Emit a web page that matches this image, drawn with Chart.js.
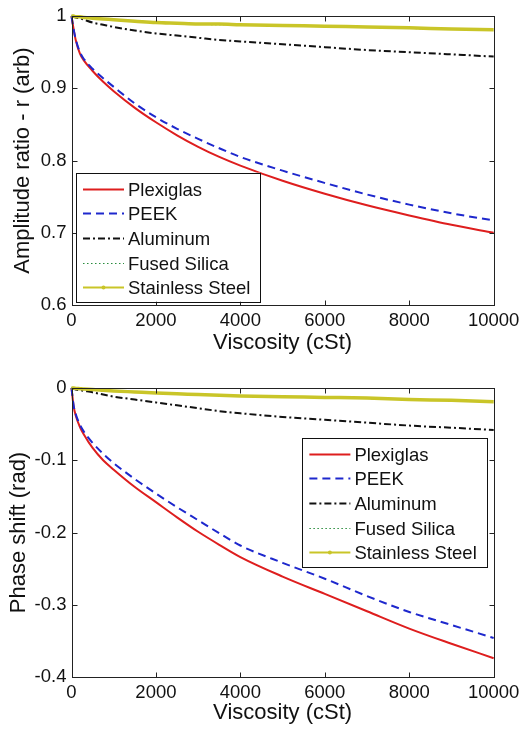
<!DOCTYPE html>
<html><head><meta charset="utf-8">
<script src="https://cdn.jsdelivr.net/npm/chart.js@4.4.1/dist/chart.umd.min.js"></script>
<style>
html,body{margin:0;padding:0;background:#fff;width:524px;height:729px;overflow:hidden}
.c{position:absolute;left:0;width:524px}
#w1{top:0;height:360px}
#w2{top:360px;height:369px}
</style></head><body>
<div class="c" id="w1"><canvas id="c1"></canvas></div>
<div class="c" id="w2"><canvas id="c2"></canvas></div>
<script>
// ---------- data ----------
const viscosity = [0,50,100,200,300,500,750,1000,1500,2000,2500,3000,3500,4000,5000,6000,7000,8000,9000,10000];
const seriesNames = ['Plexiglas','PEEK','Aluminum','Fused Silica','Stainless Steel'];

const ampPlexiglas = [1.0,0.982,0.967,0.948,0.938,0.924,0.909,0.896,0.873,0.853,0.835,0.819,0.805,0.793,0.772,0.754,0.738,0.724,0.711,0.700];
const ampPEEK      = [1.0,0.982,0.968,0.950,0.940,0.927,0.914,0.902,0.879,0.860,0.844,0.830,0.817,0.805,0.786,0.769,0.753,0.739,0.727,0.717];
const ampAluminum  = [1.0,0.999,0.998,0.997,0.995,0.991,0.988,0.985,0.980,0.976,0.973,0.970,0.967,0.965,0.961,0.957,0.953,0.950,0.947,0.944];
const ampFused     = [1.0,1.0,0.999,0.999,0.998,0.997,0.996,0.995,0.993,0.992,0.990,0.989,0.988,0.988,0.987,0.986,0.985,0.983,0.982,0.981];
const ampSteel     = [1.0,1.0,0.999,0.999,0.998,0.997,0.996,0.995,0.993,0.991,0.990,0.989,0.989,0.988,0.987,0.986,0.985,0.984,0.982,0.981];

const phasePlexiglas = [0,-0.025,-0.038,-0.054,-0.065,-0.083,-0.100,-0.113,-0.137,-0.158,-0.179,-0.199,-0.217,-0.234,-0.261,-0.285,-0.309,-0.333,-0.354,-0.374];
const phasePEEK      = [0,-0.024,-0.036,-0.051,-0.061,-0.076,-0.091,-0.104,-0.126,-0.146,-0.165,-0.183,-0.201,-0.218,-0.242,-0.264,-0.288,-0.310,-0.328,-0.346];
const phaseAluminum  = [0,-0.001,-0.002,-0.003,-0.004,-0.006,-0.009,-0.012,-0.016,-0.020,-0.024,-0.028,-0.032,-0.035,-0.040,-0.044,-0.048,-0.052,-0.055,-0.058];
const phaseFused     = [0,0,-0.0005,-0.001,-0.0015,-0.002,-0.003,-0.004,-0.005,-0.0065,-0.008,-0.009,-0.010,-0.011,-0.012,-0.013,-0.0145,-0.016,-0.017,-0.018];
const phaseSteel     = [0,0,-0.0005,-0.001,-0.0015,-0.002,-0.003,-0.004,-0.0055,-0.007,-0.008,-0.009,-0.010,-0.011,-0.012,-0.013,-0.014,-0.016,-0.017,-0.019];

const xTicks = [0,2000,4000,6000,8000,10000];
const ampTicks = [0.6,0.7,0.8,0.9,1];
const phaseTicks = [-0.4,-0.3,-0.2,-0.1,0];

// ---------- styles ----------
const FONT = '"Liberation Sans", Arial, Helvetica, sans-serif';
Chart.defaults.font.family = FONT;
Chart.defaults.color = '#111';

const styles = [
  {borderColor:'rgb(222,30,30)', borderWidth:2, borderDash:[]},
  {borderColor:'rgb(30,40,205)', borderWidth:2, borderDash:[8,5]},
  {borderColor:'#111', borderWidth:2, borderDash:[7,3,2,3]},
  {borderColor:'rgb(40,140,60)', borderWidth:1.2, borderDash:[1.5,2.5]},
  {borderColor:'rgb(201,197,40)', borderWidth:3.5, borderDash:[], legendMarker:true}
];

function makeDatasets(list){
  return list.map((vals,i)=>Object.assign({
    label: seriesNames[i],
    data: viscosity.map((x,k)=>({x:x, y:vals[k]})),
    pointRadius:0, fill:false,
    cubicInterpolationMode:'monotone',
    order: 5-i, clip: 3
  }, styles[i]));
}

const axesBox = {
  id:'axesBox',
  afterDatasetsDraw(chart){
    const {ctx, chartArea:a, scales:{x,y}} = chart;
    ctx.save();
    ctx.strokeStyle='#222'; ctx.lineWidth=1; ctx.setLineDash([]);
    const L=Math.round(a.left)+0.5, R=Math.round(a.right)+0.5, T=Math.round(a.top)+0.5, B=Math.round(a.bottom)+0.5;
    ctx.strokeRect(L,T,R-L,B-T);
    ctx.beginPath();
    x.ticks.forEach(t=>{const p=Math.round(x.getPixelForValue(t.value))+0.5; ctx.moveTo(p,B); ctx.lineTo(p,B-5); ctx.moveTo(p,T); ctx.lineTo(p,T+5);});
    y.ticks.forEach(t=>{const p=Math.round(y.getPixelForValue(t.value))+0.5; ctx.moveTo(L,p); ctx.lineTo(L+5,p); ctx.moveTo(R,p); ctx.lineTo(R-5,p);});
    ctx.stroke();
    ctx.restore();
  }
};

const boxLegend = {
  id:'boxLegend',
  afterDraw(chart, args, o){
    const {ctx, chartArea:a} = chart;
    const w=o.width, h=o.height;
    const x0 = o.anchor==='bl' ? a.left+o.dx : a.right-o.dx-w;
    const y0 = o.anchor==='bl' ? a.bottom-o.dy-h : a.top+o.dy;
    ctx.save();
    ctx.fillStyle='#fff'; ctx.fillRect(x0,y0,w,h);
    ctx.strokeStyle='#111'; ctx.lineWidth=1; ctx.setLineDash([]);
    ctx.strokeRect(Math.round(x0)+0.5, Math.round(y0)+0.5, Math.round(w), Math.round(h));
    ctx.font = '18.5px '+FONT;
    ctx.textBaseline='middle'; ctx.textAlign='left';
    chart.data.datasets.forEach((ds,i)=>{
      const y = Math.round(y0+16+i*24.6)+0.5;
      ctx.strokeStyle=ds.borderColor; ctx.lineWidth=Math.min(ds.borderWidth,2);
      ctx.setLineDash(ds.borderDash||[]);
      ctx.beginPath(); ctx.moveTo(x0+7,y); ctx.lineTo(x0+48,y); ctx.stroke();
      ctx.setLineDash([]);
      if(ds.legendMarker){ctx.fillStyle=ds.borderColor; ctx.beginPath(); ctx.arc(x0+27.5,y,2,0,Math.PI*2); ctx.fill();}
      ctx.fillStyle='#111';
      ctx.fillText(ds.label, x0+52, y+1);
    });
    ctx.restore();
  }
};

function makeChart(id, lists, yMin, yMax, yTicks, yTitle, pad, xAxisH, xTitlePad, yTitlePad, legendOpts){
  return new Chart(document.getElementById(id), {
    type:'line',
    data:{datasets: makeDatasets(lists)},
    plugins:[axesBox, boxLegend],
    options:{
      responsive:true, maintainAspectRatio:false, animation:false,
      layout:{padding:pad},
      plugins:{legend:{display:false}, tooltip:{enabled:false}, boxLegend:legendOpts},
      scales:{
        x:{type:'linear', min:0, max:10000,
           afterBuildTicks:s=>{s.ticks = xTicks.map(v=>({value:v}));},
           afterFit:s=>{s.height = xAxisH;},
           grid:{display:false, drawTicks:false, tickLength:0}, border:{display:false},
           ticks:{font:{size:18.5, lineHeight:1.2}, padding:4.6, color:'#111', maxRotation:0, autoSkip:false,
                  callback:v=>String(Math.round(v))},
           title:{display:true, text:'Viscosity (cSt)', font:{size:22, lineHeight:1.2}, color:'#111', padding:{top:0,bottom:xTitlePad}}},
        y:{type:'linear', min:yMin, max:yMax,
           afterBuildTicks:s=>{s.ticks = yTicks.map(v=>({value:v}));},
           afterFit:s=>{s.width = 71.5;},
           grid:{display:false, drawTicks:false, tickLength:0}, border:{display:false},
           ticks:{font:{size:18.5, lineHeight:1.2}, padding:5, color:'#111', callback:v=>String(Number(Number(v).toFixed(1)))},
           title:{display:true, text:yTitle, font:{size:22, lineHeight:1.2}, color:'#111', padding:{top:yTitlePad,bottom:0}}}
      }
    }
  });
}

makeChart('c1', [ampPlexiglas, ampPEEK, ampAluminum, ampFused, ampSteel], 0.6, 1, ampTicks,
  'Amplitude ratio - r (arb)', {top:15, right:28, left:0, bottom:0}, 55, 4.1, 10,
  {anchor:'bl', dx:4.5, dy:3.3, width:184, height:129});

makeChart('c2', [phasePlexiglas, phasePEEK, phaseAluminum, phaseFused, phaseSteel], -0.4, 0, phaseTicks,
  'Phase shift (rad)', {top:28, right:28, left:0, bottom:0}, 52, 2.5, 5.6,
  {anchor:'tr', dx:6.3, dy:49.7, width:185, height:129});
</script>
</body></html>
